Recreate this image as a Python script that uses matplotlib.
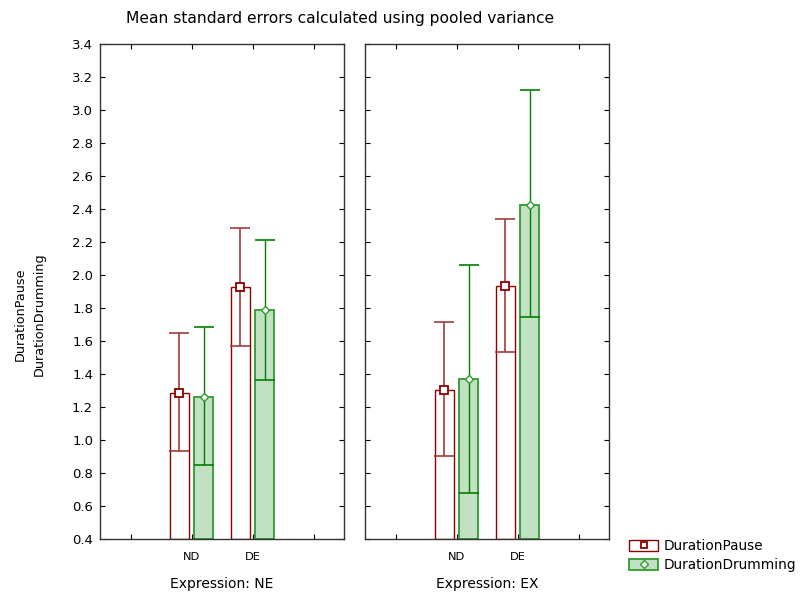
import matplotlib
matplotlib.use("Agg")
import matplotlib.pyplot as plt
import numpy as np
from matplotlib.lines import Line2D
from matplotlib.patches import Patch

plt.rcParams['font.family'] = ['DejaVu Sans']

panels = ["Expression: NE", "Expression: EX"]
categories = ["ND", "DE"]
series = ["DurationPause", "DurationDrumming"]

# means [panel][category]
pause_mean = [[1.287, 1.927], [1.305, 1.935]]
pause_low = [[0.935, 1.571], [0.905, 1.535]]
pause_high = [[1.648, 2.285], [1.715, 2.341]]

drum_mean = [[1.26, 1.788], [1.371, 2.426]]
drum_low = [[0.85, 1.366], [0.679, 1.744]]
drum_high = [[1.687, 2.212], [2.059, 3.119]]

yticks = [0.4, 0.6, 0.8, 1.0, 1.2, 1.4, 1.6, 1.8, 2.0, 2.2, 2.4, 2.6, 2.8, 3.0, 3.2, 3.4]

red_edge = '#8B0000'
red_err = '#A03C3C'
green_edge = '#2E9B2E'
green_fill = '#C2E0C2'
green_err = '#008000'

fig = plt.figure(figsize=(8.04, 6.04), dpi=100)
ax_pos = [[0.1244, 0.1076, 0.3035, 0.8195], [0.454, 0.1076, 0.3035, 0.8195]]
xcat = np.array([1, 2])
w = 0.31
off = 0.2

for p in range(2):
    ax = fig.add_axes(ax_pos[p])
    pm = np.array(pause_mean[p]); dm = np.array(drum_mean[p])
    base = 0.4
    ax.bar(xcat - off, pm - base, bottom=base, width=w, facecolor='white',
           edgecolor=red_edge, linewidth=1.0, zorder=2)
    ax.bar(xcat + off, dm - base, bottom=base, width=w, facecolor=green_fill,
           edgecolor=green_edge, linewidth=1.3, zorder=2)
    perr = np.vstack([pm - np.array(pause_low[p]), np.array(pause_high[p]) - pm])
    derr = np.vstack([dm - np.array(drum_low[p]), np.array(drum_high[p]) - dm])
    ax.errorbar(xcat - off, pm, yerr=perr, fmt='none', ecolor=red_err,
                elinewidth=1.2, capsize=7, capthick=1.2, zorder=3)
    ax.errorbar(xcat + off, dm, yerr=derr, fmt='none', ecolor=green_err,
                elinewidth=1.0, capsize=7, capthick=1.2, zorder=3)
    ax.plot(xcat - off, pm, linestyle='none', marker='s', markersize=6,
            markerfacecolor='white', markeredgecolor=red_edge, markeredgewidth=1.3, zorder=4)
    ax.plot(xcat + off, dm, linestyle='none', marker='D', markersize=4.5,
            markerfacecolor='white', markeredgecolor=green_edge, markeredgewidth=1.0, zorder=4)
    ax.set_xlim(-0.5, 3.5)
    ax.set_ylim(0.4, 3.4)
    ax.set_xticks([0, 1, 2, 3])
    ax.set_xticklabels(["", categories[0], categories[1], ""], fontsize=8.2)
    ax.set_yticks(yticks)
    if p == 0:
        ax.set_yticklabels([f"{v:.1f}" for v in yticks], fontsize=9.5)
    else:
        ax.set_yticklabels([])
    ax.tick_params(direction='in', top=True, right=True, length=3.5, width=0.8)
    ax.tick_params(axis='y', pad=5)
    ax.tick_params(axis='x', pad=9)
    for s in ax.spines.values():
        s.set_linewidth(1.0)
        s.set_color('#333333')
    ax.set_xlabel(panels[p], fontsize=10, labelpad=11)

fig.text(0.423, 0.97, "Mean standard errors calculated using pooled variance",
         ha='center', va='center', fontsize=11.2)
fig.text(0.037, 0.48, "DurationPause\nDurationDrumming", rotation=90,
         ha='center', va='center', fontsize=9.2, multialignment='center',
         linespacing=1.6)

handles = [
    (Patch(facecolor='white', edgecolor=red_edge, linewidth=1.0),
     Line2D([], [], linestyle='none', marker='s', markersize=5, markerfacecolor='white',
            markeredgecolor=red_edge, markeredgewidth=1.3)),
    (Patch(facecolor=green_fill, edgecolor=green_edge, linewidth=1.3),
     Line2D([], [], linestyle='none', marker='D', markersize=4, markerfacecolor='white',
            markeredgecolor=green_edge, markeredgewidth=1.0)),
]
fig.legend(handles, series, loc='upper left', bbox_to_anchor=(0.776, 0.116),
           frameon=False, fontsize=9.8, handlelength=2.1, handleheight=0.8,
           labelspacing=0.35, handletextpad=0.4, borderaxespad=0)

fig.savefig("out.png", dpi=100)
